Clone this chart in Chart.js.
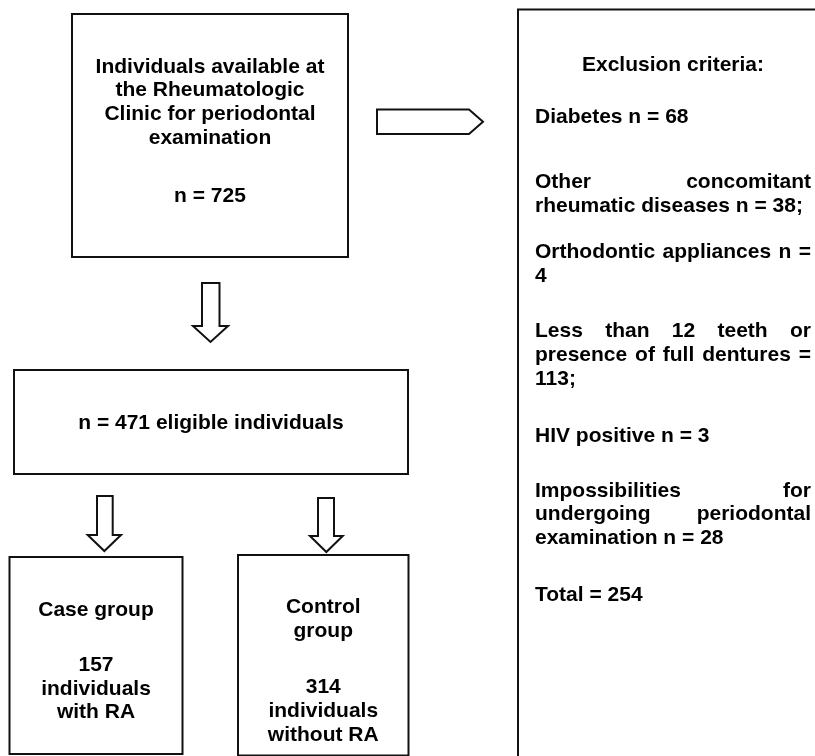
<!DOCTYPE html>
<html>
<head>
<meta charset="utf-8">
<script src="https://cdn.jsdelivr.net/npm/chart.js@4/dist/chart.umd.min.js"></script>
<style>
  html, body { margin: 0; padding: 0; background: #ffffff; }
  #wrap { width: 815px; height: 756px; position: relative; }
</style>
</head>
<body>
<div id="wrap"><canvas id="c"></canvas></div>
<script>
// ---------- DATA ----------
const availableLines = ["Individuals available at", "the Rheumatologic", "Clinic for periodontal", "examination"];
const availableN = 725;
const eligibleN = 471;
const caseLabel = "Case group";
const caseN = 157;
const caseDesc = ["individuals", "with RA"];
const controlLabel = ["Control", "group"];
const controlN = 314;
const controlDesc = ["individuals", "without RA"];
const exclusionTitle = "Exclusion criteria:";
const exclusionItems = [
  "Diabetes n = 68",
  "Other concomitant rheumatic diseases n = 38;",
  "Orthodontic appliances n = 4",
  "Less than 12 teeth or presence of full dentures = 113;",
  "HIV positive n = 3",
  "Impossibilities for undergoing periodontal examination n = 28"
];
const exclusionTotal = 254;

// ---------- LAYOUT (diagram geometry in scale units) ----------
const layout = {
  boxAvailable: { x0: 72, x1: 348, y0: 14, y1: 257 },
  boxExclusion: { x0: 518, x1: 840, y0: 9.5, y1: 780 },
  boxEligible:  { x0: 14, x1: 408, y0: 370, y1: 474 },
  boxCase:      { x0: 9.5, x1: 182.5, y0: 557, y1: 754 },
  boxControl:   { x0: 238, x1: 408.5, y0: 555, y1: 755.5 },
  arrowRight:   { x0: 377, xh: 469, xt: 483, y0: 109.5, y1: 134 },
  arrowsDown: [
    { sl: 202, sr: 219.5, top: 283, head: 326, wl: 193, wr: 228, tip: 342 },
    { sl: 97, sr: 112.7, top: 496, head: 535, wl: 87.7, wr: 121, tip: 551 },
    { sl: 318, sr: 334, top: 498, head: 536, wl: 310, wr: 342.7, tip: 552 }
  ],
  lineH: 23.6,
  availBaseline: 72.7, availNBaseline: 201.7,
  eligibleBaseline: 429.3,
  caseBaselines: [615.7, 671, 695, 718.3],
  controlBaselines: [613.3, 636.7, 693.3, 717.3, 741.3],
  exclTextX0: 535, exclTextX1: 811,
  exclTitleBaseline: 70.7,
  exclItemBaselines: [122.7, 188.3, 258, 337.3, 442.3, 496.7],
  exclTotalBaseline: 600.7
};

const FONT = 'bold 21px "Liberation Sans", Arial, Helvetica, sans-serif';
const INK = '#000000';

function rectPts(b) {
  return [{x:b.x0,y:b.y0},{x:b.x1,y:b.y0},{x:b.x1,y:b.y1},{x:b.x0,y:b.y1},{x:b.x0,y:b.y0}];
}
function downArrowPts(a) {
  const tx = (a.wl + a.wr) / 2;
  return [{x:a.sl,y:a.top},{x:a.sr,y:a.top},{x:a.sr,y:a.head},{x:a.wr,y:a.head},
          {x:tx,y:a.tip},{x:a.wl,y:a.head},{x:a.sl,y:a.head},{x:a.sl,y:a.top}];
}
function rightArrowPts(a) {
  const my = (a.y0 + a.y1) / 2;
  return [{x:a.x0,y:a.y0},{x:a.xh,y:a.y0},{x:a.xt,y:my},{x:a.xh,y:a.y1},{x:a.x0,y:a.y1},{x:a.x0,y:a.y0}];
}

const shapes = [
  rectPts(layout.boxAvailable),
  rectPts(layout.boxExclusion),
  rectPts(layout.boxEligible),
  rectPts(layout.boxCase),
  rectPts(layout.boxControl),
  rightArrowPts(layout.arrowRight),
  ...layout.arrowsDown.map(downArrowPts)
];

const datasets = shapes.map(pts => ({
  data: pts,
  showLine: true,
  fill: false,
  tension: 0,
  pointRadius: 0,
  pointHoverRadius: 0,
  borderColor: '#111111',
  borderWidth: 2,
  borderJoinStyle: 'miter',
  borderCapStyle: 'square',
  clip: false
}));

// text plugin
const textPlugin = {
  id: 'flowText',
  beforeDraw(chart) {
    const ctx = chart.ctx;
    ctx.save();
    ctx.fillStyle = '#ffffff';
    ctx.fillRect(0, 0, chart.width, chart.height);
    ctx.restore();
  },
  afterDatasetsDraw(chart) {
    const ctx = chart.ctx;
    const xs = chart.scales.x, ys = chart.scales.y;
    const X = v => xs.getPixelForValue(v);
    const Y = v => ys.getPixelForValue(v);
    ctx.save();
    ctx.font = FONT;
    ctx.fillStyle = INK;
    ctx.textBaseline = 'alphabetic';

    function centerText(t, cx, by) {
      ctx.textAlign = 'center';
      ctx.fillText(t, X(cx), Y(by));
    }
    // Box: available
    const bA = layout.boxAvailable, cA = (bA.x0 + bA.x1) / 2;
    availableLines.forEach((t, i) => centerText(t, cA, layout.availBaseline + i * layout.lineH));
    centerText("n = " + availableN, cA, layout.availNBaseline);
    // Box: eligible
    const bE = layout.boxEligible;
    centerText("n = " + eligibleN + " eligible individuals", (bE.x0 + bE.x1) / 2, layout.eligibleBaseline);
    // Case
    const bC = layout.boxCase, cC = (bC.x0 + bC.x1) / 2;
    [caseLabel, String(caseN), ...caseDesc].forEach((t, i) => centerText(t, cC, layout.caseBaselines[i]));
    // Control
    const bK = layout.boxControl, cK = (bK.x0 + bK.x1) / 2;
    [...controlLabel, String(controlN), ...controlDesc].forEach((t, i) => centerText(t, cK, layout.controlBaselines[i]));

    // Exclusion box (justified)
    const tx0 = layout.exclTextX0, tx1 = layout.exclTextX1;
    const W = X(tx1) - X(tx0);
    centerText(exclusionTitle, (tx0 + tx1) / 2, layout.exclTitleBaseline);
    ctx.textAlign = 'left';
    const spaceW = ctx.measureText(' ').width;
    function wrap(text) {
      const words = text.split(' ');
      const lines = [];
      let cur = [];
      for (const w of words) {
        const trial = cur.concat([w]).join(' ');
        if (cur.length && ctx.measureText(trial).width > W) {
          lines.push(cur); cur = [w];
        } else cur.push(w);
      }
      if (cur.length) lines.push(cur);
      return lines;
    }
    function drawPara(text, by) {
      const lines = wrap(text);
      lines.forEach((words, li) => {
        const y = Y(by + li * layout.lineH);
        const last = li === lines.length - 1;
        if (last || words.length < 2) {
          ctx.fillText(words.join(' '), X(tx0), y);
        } else {
          const wsum = words.reduce((s, w) => s + ctx.measureText(w).width, 0);
          const gap = (W - wsum) / (words.length - 1);
          let x = X(tx0);
          words.forEach(w => { ctx.fillText(w, x, y); x += ctx.measureText(w).width + gap; });
        }
      });
    }
    exclusionItems.forEach((t, i) => drawPara(t, layout.exclItemBaselines[i]));
    drawPara("Total = " + exclusionTotal, layout.exclTotalBaseline);
    ctx.restore();
  }
};

new Chart(document.getElementById('c'), {
  type: 'scatter',
  data: { datasets },
  options: {
    responsive: true,
    maintainAspectRatio: false,
    animation: false,
    events: [],
    layout: { padding: 0 },
    plugins: { legend: { display: false }, tooltip: { enabled: false }, title: { display: false } },
    scales: {
      x: { type: 'linear', min: 0, max: 815, display: false },
      y: { type: 'linear', min: 0, max: 756, reverse: true, display: false }
    }
  },
  plugins: [textPlugin]
});
</script>
</body>
</html>
